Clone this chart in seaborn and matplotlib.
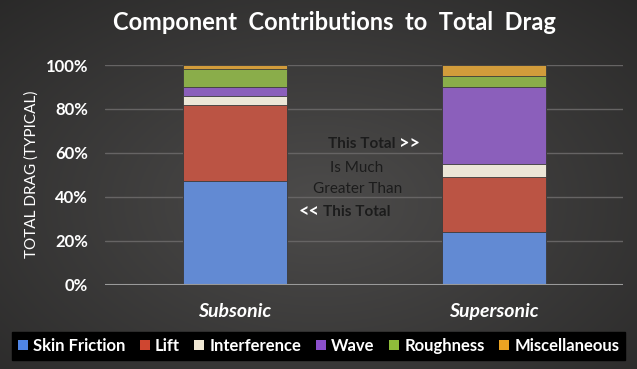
import numpy as np
import pandas as pd
import seaborn as sns
import matplotlib.pyplot as plt
from matplotlib.patches import Patch

# data (percent of total drag)
regimes = ["Subsonic", "Supersonic"]
components = ["Skin Friction", "Lift", "Interference", "Wave", "Roughness", "Miscellaneous"]
subsonic = [47, 35, 4, 4, 8, 2]
supersonic = [24, 25, 6, 35, 5, 5]
colors = ["#4f85e6", "#cf4630", "#f0e7d3", "#8b4fcb", "#8fbd3a", "#eba322"]
yticks = [0, 20, 40, 60, 80, 100]

df = pd.DataFrame({"component": components, "Subsonic": subsonic, "Supersonic": supersonic})
long = df.melt(id_vars="component", var_name="regime", value_name="pct")
long["cum"] = long.groupby("regime")["pct"].cumsum()

sns.set_style("dark")
plt.rcParams["font.family"] = ["Lato", "DejaVu Sans"]

fig = plt.figure(figsize=(6.37, 3.69), dpi=100)

# dark vignette background
bg = fig.add_axes([0, 0, 1, 1], zorder=-10)
yy, xx = np.mgrid[0:1:200j, 0:1:340j]
d = np.sqrt(((xx - 0.5) / 0.75) ** 2 + ((yy - 0.55) / 0.8) ** 2)
shade = np.clip(0.30 - 0.14 * d, 0.15, 0.30)
bg.imshow(np.dstack([shade, shade * 0.985, shade * 0.975]), aspect="auto", extent=[0, 1, 0, 1])
bg.axis("off")

ax = fig.add_axes([105 / 637, 1 - 284.5 / 369, 518 / 637, 219.5 / 369])
ax.set_facecolor("none")

# stacked bars: draw cumulative totals from the top segment down
for comp, col in reversed(list(zip(components, colors))):
    sub = long[long["component"] == comp]
    sns.barplot(data=sub, x="regime", y="cum", order=regimes, color=col,
                width=0.4, edgecolor="#3a3a3a", linewidth=0.6, ax=ax, zorder=3)

ax.set_xlim(-0.502, 1.498)
ax.set_ylim(0, 100)
ax.set_yticks(yticks)
ax.set_yticklabels([f"{t}%" for t in yticks], color="white", fontsize=12, fontweight="bold")
ax.tick_params(axis="y", length=0, pad=12)
ax.tick_params(axis="x", length=0, pad=13)
ax.set_xticks([0, 1])
ax.set_xticklabels(regimes, color="white", fontsize=14, fontweight="bold", style="italic")
ax.set_xlabel("")
ax.set_ylabel("TOTAL DRAG (TYPICAL)", color="white", fontsize=11)
ax.yaxis.set_label_coords(-0.128, 0.5)
ax.grid(False)
for y in yticks[1:]:
    ax.axhline(y, color="#666464", lw=1, zorder=1)
ax.axhline(0, color="#9a9a9a", lw=1.5, zorder=4)
for s in ax.spines.values():
    s.set_visible(False)

# annotation text in the middle
dark = "#1c1c1c"
ax.text(0.618, 64.0, "This Total", color=dark, fontsize=11, fontweight="bold", ha="right", va="center")
ax.text(0.632, 64.3, ">>", color="white", fontsize=13, fontweight="bold", ha="left", va="center")
ax.text(0.471, 53.1, "Is Much", color=dark, fontsize=11, ha="center", va="center")
ax.text(0.475, 43.5, "Greater Than", color=dark, fontsize=11, ha="center", va="center")
ax.text(0.325, 33.3, "<<", color="white", fontsize=13, fontweight="bold", ha="right", va="center")
ax.text(0.340, 33.0, "This Total", color=dark, fontsize=11, fontweight="bold", ha="left", va="center")

fig.text(334 / 637, 1 - 22 / 369, "Component  Contributions  to  Total  Drag", color="white",
         fontsize=17, fontweight="bold", ha="center", va="center")

handles = [Patch(facecolor=c, edgecolor="none") for c in colors]
leg = fig.legend(handles, components, ncol=6, mode="expand", loc="center",
                 bbox_to_anchor=(12 / 637, 1 - 362 / 369, 613 / 637, 32 / 369),
                 frameon=True, fancybox=False, fontsize=12, handlelength=0.6,
                 handleheight=0.6, handletextpad=0.3, columnspacing=0.3, borderpad=0.35,
                 borderaxespad=0)
leg.get_frame().set_facecolor("black")
leg.get_frame().set_edgecolor("black")
leg.get_frame().set_alpha(1)
for t in leg.get_texts():
    t.set_color("white")
    t.set_fontweight("bold")

fig.savefig("out.png", dpi=100)
